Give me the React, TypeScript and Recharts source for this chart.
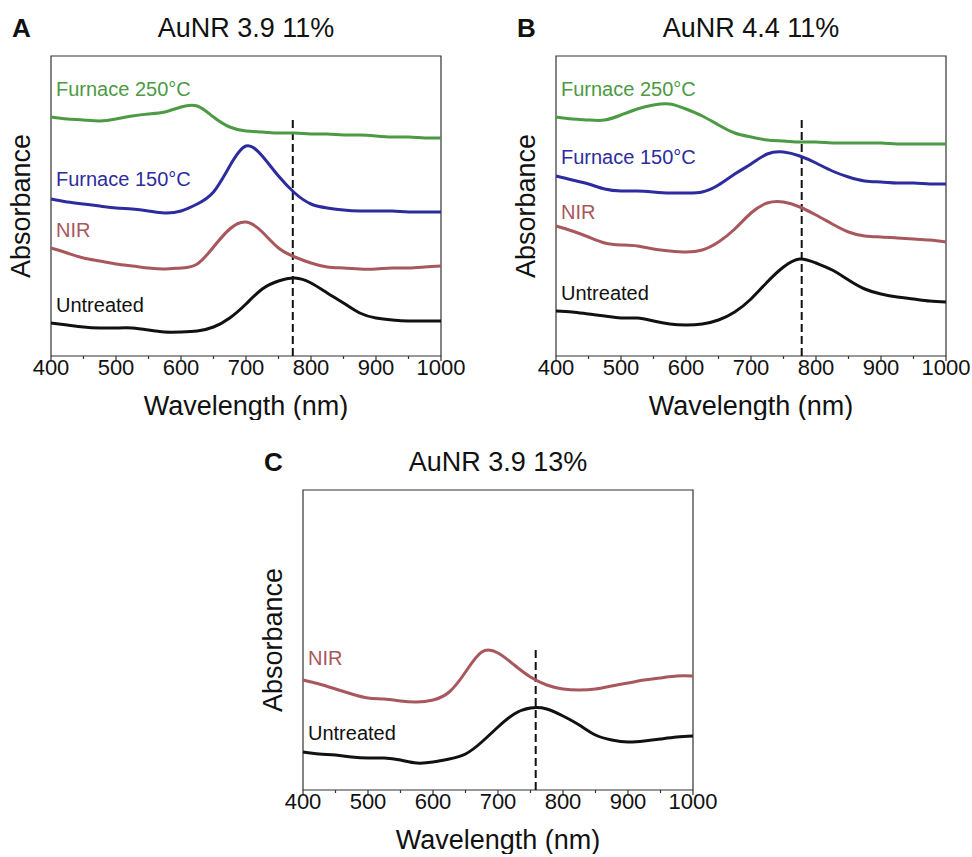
import { Line, LineChart, ReferenceArea, ReferenceLine, XAxis, YAxis } from "recharts";

const WAVELENGTHS = [400, 425, 450, 475, 500, 525, 550, 575, 600, 625, 650, 675, 700, 725, 750, 775, 800, 825, 850, 875, 900, 925, 950, 975, 1000];
const X_TICKS = [400, 450, 500, 550, 600, 650, 700, 750, 800, 850, 900, 950, 1000];

// A: AuNR 3.9 11%
const A_UNTREATED = [33, 31, 29, 28, 28, 28, 26, 24, 24, 25, 29, 38, 52, 67, 75, 78, 73, 63, 53, 43, 38, 36, 35, 35, 35];
const A_NIR = [108, 103, 98, 95, 92, 90, 88, 87, 88, 92, 109, 127, 134, 124, 108, 99, 93, 89, 88, 87, 87, 88, 88, 89, 90];
const A_F150 = [157, 154, 152, 150, 148, 147, 145, 143, 145, 152, 164, 190, 210, 200, 180, 163, 152, 148, 146, 145, 145, 145, 144, 144, 144];
const A_F250 = [239, 237, 236, 235, 237, 240, 242, 244, 249, 250, 239, 229, 225, 224, 223, 223, 222, 222, 221, 221, 220, 219, 219, 218, 218];

// B: AuNR 4.4 11%
const B_UNTREATED = [45, 44, 42, 40, 38, 38, 35, 32, 31, 32, 36, 44, 57, 74, 89, 97, 93, 86, 76, 67, 62, 59, 57, 55, 54];
const B_NIR = [130, 125, 119, 113, 111, 110, 107, 105, 104, 106, 114, 127, 143, 153, 154, 149, 141, 132, 124, 120, 119, 118, 117, 116, 114];
const B_F150 = [180, 176, 172, 167, 165, 165, 164, 163, 163, 164, 171, 182, 192, 202, 204, 200, 193, 185, 179, 175, 174, 173, 173, 172, 172];
const B_F250 = [239, 237, 236, 236, 241, 247, 251, 252, 247, 240, 231, 223, 219, 216, 215, 214, 214, 213, 213, 213, 213, 212, 212, 212, 212];

// C: AuNR 3.9 13%
const C_UNTREATED = [38, 36, 35, 33, 32, 32, 30, 27, 28, 31, 36, 48, 63, 76, 82, 81, 74, 65, 55, 50, 48, 49, 51, 53, 54];
const C_NIR = [110, 106, 101, 96, 92, 91, 89, 88, 90, 98, 118, 138, 137, 125, 113, 105, 101, 100, 101, 104, 107, 110, 112, 114, 114];

// longitudinal peak of the untreated rods (dashed marker)
const A_DASH = 772;
const B_DASH = 778;
const C_DASH = 758;
const A_DASH_TOP = 240;
const B_DASH_TOP = 240;
const C_DASH_TOP = 140;

const FONT = '"Liberation Sans", Arial, Helvetica, sans-serif';
const GREEN = "#4c9a44";
const BLUE = "#2c2c9e";
const BROWN = "#a8585c";
const BLACK = "#111";
const FRAME = "#333";

const CHART_W = 480;
const CHART_H = 420;
const PLOT_TOP = 56;
const PLOT_W = 390;
const PLOT_H = 300;
const AXIS_H = 30;

type Series = { key: string; name: string; values: number[]; color: string; labelY: number };

function WavelengthTick({ x, y, payload }: any) {
  const major = payload.value % 100 === 0;
  return (
    <g>
      <line x1={x} y1={y} x2={x} y2={y + (major ? 5 : 3)} stroke={FRAME} strokeWidth={1.2} />
      {major && (
        <text x={x} y={y + 19} textAnchor="middle" fontSize={22} fill={BLACK} fontFamily={FONT}>
          {payload.value}
        </text>
      )}
    </g>
  );
}

interface PanelProps {
  left: number;
  top: number;
  plotLeft: number;
  letter: string;
  title: string;
  series: Series[];
  dashAt: number;
  dashTop: number;
}

function Panel({ left, top, plotLeft, letter, title, series, dashAt, dashTop }: PanelProps) {
  const rows = WAVELENGTHS.map((wl, i) => {
    const row: Record<string, number> = { wl };
    series.forEach((s) => (row[s.key] = s.values[i]));
    return row;
  });
  const mid = plotLeft + PLOT_W / 2;

  return (
    <div style={{ position: "absolute", left, top, width: CHART_W, height: CHART_H }}>
      <LineChart
        width={CHART_W}
        height={CHART_H}
        data={rows}
        margin={{ top: PLOT_TOP, left: plotLeft, right: CHART_W - plotLeft - PLOT_W, bottom: CHART_H - PLOT_TOP - PLOT_H - AXIS_H }}
      >
        <XAxis
          dataKey="wl"
          type="number"
          domain={[400, 1000]}
          ticks={X_TICKS}
          interval={0}
          height={AXIS_H}
          axisLine={false}
          tickLine={false}
          tickSize={0}
          tickMargin={0}
          tick={<WavelengthTick />}
        />
        <YAxis type="number" domain={[0, 300]} hide />
        <ReferenceArea x1={400} x2={1000} y1={0} y2={300} fill="none" stroke={FRAME} strokeWidth={1.2} ifOverflow="visible" />
        <ReferenceLine
          segment={[
            { x: dashAt, y: 0 },
            { x: dashAt, y: dashTop },
          ]}
          stroke={BLACK}
          strokeWidth={2}
          strokeDasharray="8 4"
        />
        {series.map((s) => (
          <Line
            key={s.key}
            dataKey={s.key}
            type="natural"
            stroke={s.color}
            strokeWidth={3}
            dot={false}
            isAnimationActive={false}
          />
        ))}
      </LineChart>
      <svg width={CHART_W} height={CHART_H} style={{ position: "absolute", left: 0, top: 0, pointerEvents: "none" }} fontFamily={FONT}>
        <text x={plotLeft - 39} y={37} fontSize={26} fontWeight="bold" fill={BLACK}>
          {letter}
        </text>
        <text x={mid} y={37} fontSize={27} textAnchor="middle" fill={BLACK}>
          {title}
        </text>
        <text x={mid} y={PLOT_TOP + PLOT_H + 59} fontSize={27} textAnchor="middle" fill={BLACK}>
          Wavelength (nm)
        </text>
        <text
          transform={`translate(${plotLeft - 21}, ${PLOT_TOP + PLOT_H / 2}) rotate(-90)`}
          fontSize={27}
          textAnchor="middle"
          fill={BLACK}
        >
          Absorbance
        </text>
        {series.map((s) => (
          <text key={s.key} x={plotLeft + 5} y={s.labelY} fontSize={20} fill={s.color}>
            {s.name}
          </text>
        ))}
      </svg>
    </div>
  );
}

export default function App() {
  return (
    <div style={{ position: "absolute", left: 0, top: 0, width: 972, height: 857, background: "#fff" }}>
      <Panel
        left={0}
        top={0}
        plotLeft={51}
        letter="A"
        title="AuNR 3.9 11%"
        dashAt={A_DASH}
        dashTop={A_DASH_TOP}
        series={[
          { key: "f250", name: "Furnace 250°C", values: A_F250, color: GREEN, labelY: 96 },
          { key: "f150", name: "Furnace 150°C", values: A_F150, color: BLUE, labelY: 186 },
          { key: "nir", name: "NIR", values: A_NIR, color: BROWN, labelY: 237 },
          { key: "untreated", name: "Untreated", values: A_UNTREATED, color: BLACK, labelY: 312 },
        ]}
      />
      <Panel
        left={500}
        top={0}
        plotLeft={56}
        letter="B"
        title="AuNR 4.4 11%"
        dashAt={B_DASH}
        dashTop={B_DASH_TOP}
        series={[
          { key: "f250", name: "Furnace 250°C", values: B_F250, color: GREEN, labelY: 96 },
          { key: "f150", name: "Furnace 150°C", values: B_F150, color: BLUE, labelY: 164 },
          { key: "nir", name: "NIR", values: B_NIR, color: BROWN, labelY: 219 },
          { key: "untreated", name: "Untreated", values: B_UNTREATED, color: BLACK, labelY: 300 },
        ]}
      />
      <Panel
        left={250}
        top={434}
        plotLeft={53}
        letter="C"
        title="AuNR 3.9 13%"
        dashAt={C_DASH}
        dashTop={C_DASH_TOP}
        series={[
          { key: "nir", name: "NIR", values: C_NIR, color: BROWN, labelY: 231 },
          { key: "untreated", name: "Untreated", values: C_UNTREATED, color: BLACK, labelY: 306 },
        ]}
      />
    </div>
  );
}
